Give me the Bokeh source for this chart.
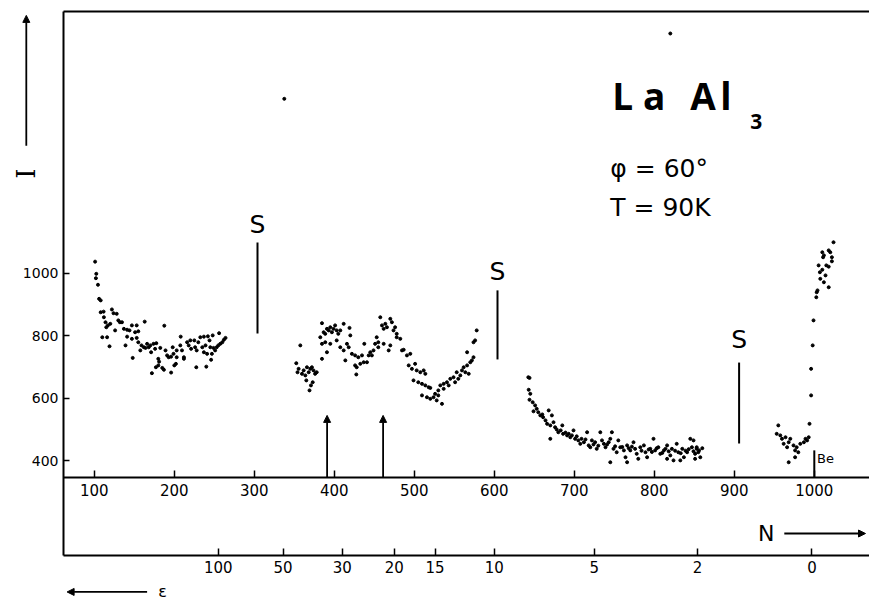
import math
from bokeh.plotting import figure
from bokeh.models import (LinearAxis, FixedTicker, Range1d, Label, Arrow, NormalHead)
from bokeh.core.properties import value
from bokeh.embed import file_html
from bokeh.resources import INLINE

# ---------------- data (channel N, counts I) ----------------
seg_a = [(101,1037),(102.5,998),(102,984),(104.6,963),(106,918),(108,913),(108,875),(111.6,877),(122,884),(124,872),
         (128,870),(112,859),(114,843),(120,838),(115,827),(117,833),(130,849),(132,843),(134.6,843),(126,817),
         (110,795),(116,795),(119,766),(137,822),(141,819),(144,817),(147,833),(153,833),(163,845),(187.5,832),
         (151,811),(155,814),(141,797),(147,790),(153,793),(139,769),(155,779),(159,769),(162,763),(166,774),
         (170,769),(174,774),(177.5,776),(164,761),(168,763),(157.5,753),(171,747),(176,758),(182.5,761),(148,729),
         (180,726),(181,717),(177,699),(180,705),(185,697),(187,691),(172,680),(196,682),(189,753),(191,737),
         (193,731),(196,733),(199,742),(203,731),(198,763),(203,753),(207.5,769),(208,797),(209.6,753),(212,731),
         (212,726),(202,710),(200,705),(216,779),(218,769),(221,758),(220,785),(225,785),(226,763),(228,753),
         (232.5,795),(237,797),(242,798),(248,801),(235,763),(239,769),(245,763),(230,779),(237,747),(241,742),
         (227.5,699),(240,701),(246,723),(251,753),(253,763),(255,769),(257.5,774),(260,779),(256,808),(262,787),
         (264,793),(249,761),(247,742),(244,785)]
seg_b = [(352.5,712),(355.4,694),(357.5,769),(354,683),(359.6,678),(361.7,689),(363.8,673),(365.8,699),(368,683),
         (370,694),(372,699),(374,689),(376,678),(378,683),(365,657),(370.8,641),(369,625),(373,651),(384.6,840),
         (382.5,795),(386.7,811),(388.7,806),(390.8,822),(393,817),(395,827),(397,811),(399,822),(401,833),(403,817),
         (405,806),(407.5,817),(411.7,838),(419,825),(420,801),(384.6,774),(388.7,779),(390.8,747),(384.6,726),
         (395,774),(403,785),(407.5,763),(411.7,753),(413.8,721),(415.8,774),(418,763),(422,742),(426,737),(430,731),
         (434.6,737),(426,705),(428,699),(432.5,710),(436.7,715),(440.8,715),(427.5,676),(437.5,774),(443,737),
         (445,747),(447,737),(449,753),(451,774),(453,795),(455,779),(457.5,859),(459.6,833),(461.7,822),(463.8,838),
         (465.8,827),(470,854),(472,843),(474,817),(476,827),(478,806),(455,763),(461.7,774),(468,753),(470,769),
         (478,795),(482.5,790),(484.6,753),(486.7,755),(490.8,737),(495,742),(493,705),(497,694),(501,710),(503,689),
         (507.5,683),(511.7,689),(513.8,678),(499,657),(505,651),(509.6,646),(513.8,641),(518,635),(520,633),
         (509.6,609),(515.8,603),(520,598),(524,603),(526,614),(528,593),(530,609),(534.6,582),(530,625),(532.5,641),
         (536.7,646),(540.8,651),(536.7,630),(543,641),(545,662),(549,667),(553,683),(551,651),(555,662),(557.5,673),
         (559.6,689),(561.7,699),(563.8,683),(566,705),(568,678),(570,715),(572,721),(574,731),(566,747),(574,779),
         (576,785),(578,817)]
seg_c = [(642.5,667),(644,665),(643,627),(645,614),(644,595),(648,587),(651,577),(653,566),(649,558),(655,555),
         (657.5,545),(661,539),(664,529),(668,561),(672,545),(666,518),(670,513),(674,523),(676,507),(680,491),
         (685,513),(686,486),(670,470),(691,481),(695,475),(699,497),(701,470),(705,465),(707.5,454),(712,459),
         (716,491),(718,449),(720,443),(722,465),(726,459),(728,438),(732.5,491),(734.6,465),(737,454),(739,443),
         (743,459),(745,470),(747,491),(749,438),(753,427),(755,465),(757.5,443),(762,433),(764,411),(766,449),
         (770,433),(774,459),(776,438),(778,422),(782.5,443),(787,449),(789,427),(791,411),(795,438),(799,470),
         (801,433),(805,443),(807.5,422),(812,433),(816,449),(820,417),(822,438),(824,401),(828,454),(830,427),
         (835,438),(837,411),(841,427),(845,470),(847,443),(851,422),(853,438),(745,395),(766,395),(780,406),
         (816,406),(832.5,401),(849,465),(853,443),(855,427),(851,406),(857.5,411),(860,440),
         (660,548),(678,500),(683,497),(689,490),(693,486),(697,481),(703,478),(709,470),(714,468),(724,452),
         (730,448),(741,452),(751,446),(760,444),(768,440),(772,445),(784,432),(793,436),(797,428),(803,440),
         (810,425),(814,438),(818,430),(826,432),(833,424),(839,432),(843,437),(849,430),(856,433)]
seg_d = [(955,513),(953,486),(957.5,481),(959.6,470),(964,475),(961.7,454),(966,443),(968,459),(970,470),(974,449),
         (976,433),(978,443),(982.5,454),(987,459),(989,470),(991,465),(993,475),(980,427),(968,395),(976,411),
         (994,518),(996,609),(996,694),(998,769),(999,849),(1002.5,923),(1003,939),(1004,945),(1007.5,982),
         (1012,971),(1007,1003),(1010,1011),(1014,993),(1018,955),(1015,1025),(1018,1021),(1012,1057),(1010,1067),
         (1011,1051),(1018,1073),(1020,1067),(1022,1051),(1022,1038),(1024,1099),(1005.4,1025)]
strays = [(337.5,1558),(820,1767)]

n_ticks = [100, 200, 300, 400, 500, 600, 700, 800, 900, 1000]
i_ticks = [400, 600, 800, 1000]
eps_pos_n = [255, 336, 410, 475, 526, 600, 725, 854, 997]
eps_labels = ["100", "50", "30", "20", "15", "10", "5", "2", "0"]

s_n = [304, 604, 906]
s_top = [1098, 945, 714]
s_bottom = [807, 724, 455]
s_text_i = [1156, 1005, 788]
peak_arrows_n = [391, 461]

# frame geometry (data units)
N_LEFT, N_RIGHT = 61.5, 1069
I_TOP, I_BASE, I_EPS = 1837, 347, 97

# ---------------- figure ----------------
p = figure(width=869, height=601, x_range=Range1d(-17.25, 1069), y_range=Range1d(-50.6, 1872.6),
           x_axis_type=None, y_axis_type=None, output_backend="svg", toolbar_location=None,
           min_border=0)
p.outline_line_color = None
p.background_fill_color = "white"
p.border_fill_color = "white"

font = "DejaVu Sans"
common = dict(minor_tick_line_color=None, axis_line_width=2, major_tick_line_width=1.5,
              axis_line_color="black", major_tick_line_color="black",
              major_label_text_color="black", major_label_text_font=font)

yax = LinearAxis(fixed_location=N_LEFT, ticker=FixedTicker(ticks=i_ticks), bounds=(I_EPS, I_TOP),
                 major_tick_in=6, major_tick_out=0, major_label_standoff=5,
                 major_label_text_font_size="14px", **common)
p.add_layout(yax, "left")

topax = LinearAxis(fixed_location=I_TOP, ticker=FixedTicker(ticks=[]), bounds=(N_LEFT, N_RIGHT),
                   major_tick_in=0, major_tick_out=0, major_label_text_font_size="0px", **common)
p.add_layout(topax, "above")

nax = LinearAxis(fixed_location=I_BASE, ticker=FixedTicker(ticks=n_ticks), bounds=(N_LEFT, N_RIGHT),
                 major_tick_in=7, major_tick_out=0, major_label_standoff=7,
                 major_label_text_font_size="15px", **common)
p.add_layout(nax, "below")

eax = LinearAxis(fixed_location=I_EPS, ticker=FixedTicker(ticks=eps_pos_n), bounds=(N_LEFT, N_RIGHT),
                 major_label_overrides={k: v for k, v in zip(eps_pos_n, eps_labels)},
                 major_tick_in=7, major_tick_out=0, major_label_standoff=6,
                 major_label_text_font_size="15px", **common)
p.add_layout(eax, "below")

# data points
for seg in (seg_a, seg_b, seg_c, seg_d, strays):
    p.scatter([q[0] for q in seg], [q[1] for q in seg], size=3, color="black", marker="circle")

# S markers
p.segment(x0=s_n, y0=s_bottom, x1=s_n, y1=s_top, line_color="black", line_width=2)
p.text(x=s_n, y=s_text_i, text=["S"] * len(s_n), text_align="center", text_baseline="middle",
       text_font=value(font), text_font_size="25px", text_color="black")

head = dict(size=7, fill_color="black", line_color="black")

# peak arrows
for xn in peak_arrows_n:
    p.add_layout(Arrow(x_start=xn, y_start=I_BASE, x_end=xn, y_end=545, line_width=1.8,
                       end=NormalHead(**head)))

# Be marker
p.segment(x0=[1000], y0=[I_BASE], x1=[1000], y1=[433], line_color="black", line_width=2)
p.add_layout(Label(x=1003.5, y=407, text="Be", text_font=font, text_font_size="13px",
                   text_color="black", text_align="left", text_baseline="middle"))

# title block
big = "Open Sans"
for txt, xn in (("L", 747.5), ("a", 786), ("A", 845), ("l", 882.5)):
    p.add_layout(Label(x=xn, y=1568, text=txt, text_font=big, text_font_style="bold",
                       text_font_size="37px", text_color="black",
                       text_align="left", text_baseline="middle"))
p.add_layout(Label(x=920, y=1484, text="3", text_font=big, text_font_style="bold",
                   text_font_size="21px", text_color="black",
                   text_align="left", text_baseline="middle"))
p.add_layout(Label(x=745, y=1335, text="φ = 60°", text_font=font, text_font_size="25px",
                   text_color="black", text_align="left", text_baseline="middle"))
p.add_layout(Label(x=745, y=1210, text="T = 90K", text_font=font, text_font_size="25px",
                   text_color="black", text_align="left", text_baseline="middle"))

# axis names with arrows
p.add_layout(Label(x=15, y=1319, text="I", angle=math.pi / 2, text_font="DejaVu Serif",
                   text_font_size="26px", text_color="black",
                   text_align="center", text_baseline="middle"))
p.add_layout(Arrow(x_start=15, y_start=1408, x_end=15, y_end=1825, line_width=1.8,
                   end=NormalHead(**head)))
p.add_layout(Label(x=940, y=167, text="N", text_font=font, text_font_size="22px",
                   text_color="black", text_align="center", text_baseline="middle"))
p.add_layout(Arrow(x_start=962.5, y_start=167, x_end=1064, y_end=167, line_width=1.8,
                   end=NormalHead(**head)))
p.add_layout(Label(x=180, y=-20, text="ε", text_font=font, text_font_size="16px",
                   text_color="black", text_align="left", text_baseline="middle"))
p.add_layout(Arrow(x_start=166, y_start=-20, x_end=66, y_end=-20, line_width=1.8,
                   end=NormalHead(**head)))

open("out.html", "w").write(file_html(p, INLINE))
